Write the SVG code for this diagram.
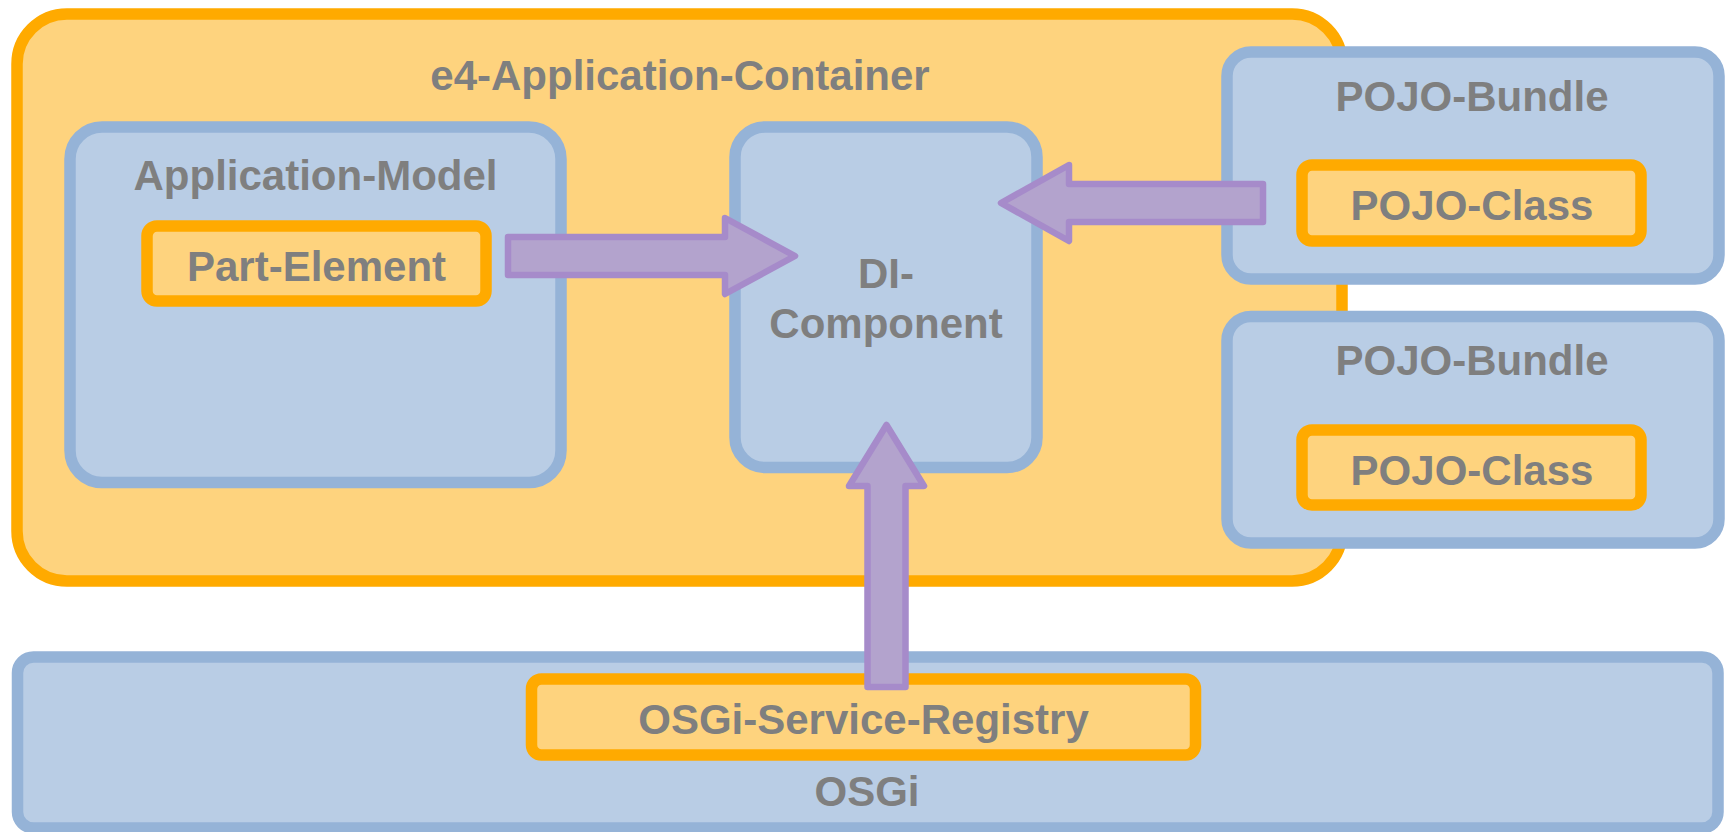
<svg xmlns="http://www.w3.org/2000/svg" width="1727" height="832" viewBox="0 0 1727 832">
<style>
.org{fill:#FED37E;stroke:#FFAA00;stroke-width:11.5}
.blu{fill:#B9CDE5;stroke:#95B3D7;stroke-width:11.5}
.arr{fill:#B3A3CD;stroke:#A68BCA;stroke-width:6.5;stroke-linejoin:round}
text{font-family:"Liberation Sans",Arial,sans-serif;font-weight:bold;font-size:42px;fill:#7F7F7F;text-anchor:middle}
</style>
<rect width="1727" height="832" fill="#FFFFFF"/>
<g id="e4-container">
<rect class="org" x="17" y="14" width="1325" height="567" rx="50"/>
<text x="680" y="90">e4-Application-Container</text>
</g>
<g id="application-model">
<rect class="blu" x="70" y="127" width="491" height="355.5" rx="32"/>
<text x="315.5" y="190">Application-Model</text>
</g>
<g id="part-element">
<rect class="org" x="147" y="226" width="339" height="75" rx="10"/>
<text x="316.5" y="281">Part-Element</text>
</g>
<g id="di-component">
<rect class="blu" x="735" y="127" width="302" height="340.5" rx="30"/>
<text x="886" y="288">DI-</text>
<text x="886" y="338">Component</text>
</g>
<g id="pojo-bundle-1">
<rect class="blu" x="1227" y="52" width="492" height="227" rx="24"/>
<text x="1472" y="111">POJO-Bundle</text>
</g>
<g id="pojo-class-1">
<rect class="org" x="1302" y="165" width="339" height="76" rx="10"/>
<text x="1472" y="220">POJO-Class</text>
</g>
<g id="pojo-bundle-2">
<rect class="blu" x="1227" y="316.5" width="492" height="226.5" rx="24"/>
<text x="1472" y="375">POJO-Bundle</text>
</g>
<g id="pojo-class-2">
<rect class="org" x="1302" y="430" width="339" height="75" rx="10"/>
<text x="1472" y="485">POJO-Class</text>
</g>
<g id="osgi">
<rect class="blu" x="17.5" y="657" width="1700.5" height="171" rx="16"/>
<text x="867" y="806">OSGi</text>
</g>
<g id="osgi-service-registry">
<rect class="org" x="531.5" y="679" width="664" height="76" rx="10"/>
<text x="863.5" y="734">OSGi-Service-Registry</text>
</g>
<g id="connectors">
<polygon class="arr" points="508,237 725,237 725,218 795,256 725,294 725,275 508,275"/>
<polygon class="arr" points="1263,184 1069,184 1069,165 1001,203 1069,241 1069,222 1263,222"/>
<polygon class="arr" points="867.5,687 867.5,486 849,486 886.5,425 924,486 905.5,486 905.5,687"/>
</g>
</svg>
